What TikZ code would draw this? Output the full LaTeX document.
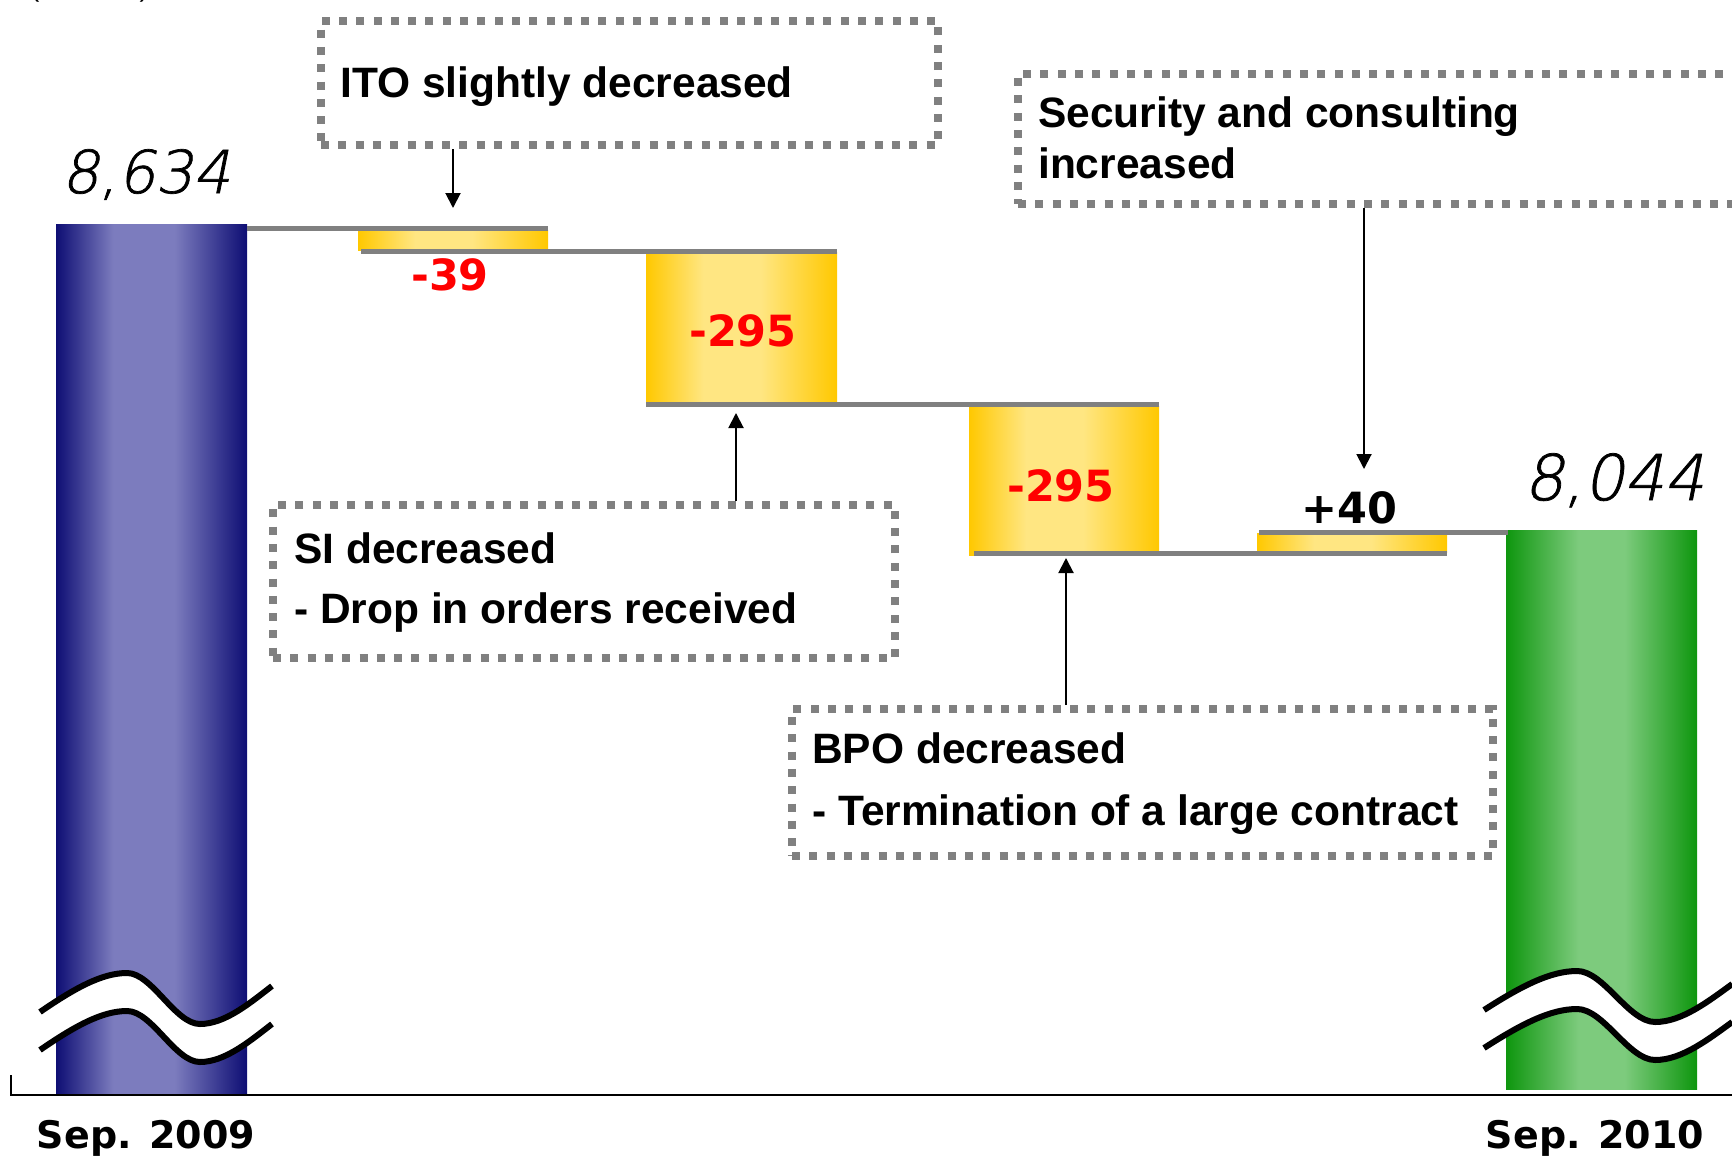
\documentclass[tikz,border=0pt]{standalone}
\usepackage{fontspec}
\setmainfont{Liberation Sans}
\newfontfamily\numfont{DejaVu Sans}
\newfontfamily\thinfont{DejaVu Sans ExtraLight}[FakeSlant=0.2, FakeBold=1.2]
\usetikzlibrary{arrows.meta}

\definecolor{navyD}{RGB}{14,14,116}
\definecolor{navyL}{RGB}{124,124,190}
\definecolor{greenD}{RGB}{14,150,14}
\definecolor{greenL}{RGB}{125,203,125}
\definecolor{goldD}{RGB}{255,200,0}
\definecolor{goldL}{RGB}{255,230,130}
\definecolor{stepgray}{RGB}{128,128,128}
\definecolor{minusred}{RGB}{255,0,0}

% bar shadings: dark edges, light band a little left of centre
\pgfdeclarehorizontalshading{navybar}{100bp}{color(0bp)=(navyD); color(25bp)=(navyD); color(40bp)=(navyL); color(56bp)=(navyL); color(75bp)=(navyD); color(100bp)=(navyD)}
\pgfdeclarehorizontalshading{greenbar}{100bp}{color(0bp)=(greenD); color(25bp)=(greenD); color(44bp)=(greenL); color(56bp)=(greenL); color(75bp)=(greenD); color(100bp)=(greenD)}
\pgfdeclarehorizontalshading{goldbar}{100bp}{color(0bp)=(goldD); color(25bp)=(goldD); color(40bp)=(goldL); color(55bp)=(goldL); color(75bp)=(goldD); color(100bp)=(goldD)}

\tikzset{
  bar/.style={shade, inner sep=0pt, outer sep=0pt, anchor=north west},
  stepline/.style={draw=stepgray, line width=5pt},
  notebox/.style={draw=stepgray, line width=8pt, dash pattern=on 8pt off 9.3pt,
                  inner sep=0pt, anchor=north west},
  notetext/.style={anchor=base west, inner sep=0pt, font=\bfseries\fontsize{42.5pt}{50pt}\selectfont},
  callout/.style={draw=black, line width=2pt, -{Triangle[width=15pt,length=15pt]}},
  delta/.style={anchor=base, inner sep=0pt, font=\numfont\bfseries\fontsize{43pt}{50pt}\selectfont},
  total/.style={anchor=base, inner sep=0pt},
  period/.style={anchor=base, inner sep=0pt, font=\numfont\bfseries\fontsize{38pt}{44pt}\selectfont},
  breakwave/.pic={
    \fill[white] (0,0) .. controls (35,-24) and (62,-39) .. (87,-39)
      .. controls (112,-39) and (135,12) .. (160,12)
      .. controls (185,12) and (210,-9) .. (232,-26)
      -- (232,12) .. controls (210,29) and (185,50) .. (160,50)
      .. controls (135,50) and (112,-1) .. (87,-1)
      .. controls (62,-1) and (35,14) .. (0,38) -- cycle;
    \draw[line width=6pt] (0,0) .. controls (35,-24) and (62,-39) .. (87,-39)
      .. controls (112,-39) and (135,12) .. (160,12)
      .. controls (185,12) and (210,-9) .. (232,-26);
    \draw[line width=6pt] (0,38) .. controls (35,14) and (62,-1) .. (87,-1)
      .. controls (112,-1) and (135,50) .. (160,50)
      .. controls (185,50) and (210,29) .. (232,12);
  }
}

\begin{document}
\begin{tikzpicture}[x=1pt, y=-1pt]
\useasboundingbox (0,0) rectangle (1732,1156);
\clip (0,0) rectangle (1732,1156);

% unit caption, cut by the top edge
\node[anchor=base west, inner sep=0pt, font=\fontsize{28pt}{32pt}\selectfont] (unit) at (30,-3) {(\hspace{100pt})};

% totals and steps
\node[bar, shading=navybar,  minimum width=191pt, minimum height=869pt]   (b0) at (56,224) {};
\node[bar, shading=goldbar,  minimum width=190pt, minimum height=19.5pt]  (b1) at (358,230.5) {};
\node[bar, shading=goldbar,  minimum width=191pt, minimum height=151pt]   (b2) at (646,252) {};
\node[bar, shading=goldbar,  minimum width=190pt, minimum height=149pt]   (b3) at (969,406) {};
\node[bar, shading=goldbar,  minimum width=190pt, minimum height=19pt]    (b4) at (1257,533) {};
\node[bar, shading=greenbar, minimum width=191pt, minimum height=559pt]   (b5) at (1506,530) {};

% connecting levels
\draw[stepline] (247,228) -- (548,228);
\draw[stepline] (361,251) -- (837,251);
\draw[stepline] (646,404.5) -- (1159,404.5);
\draw[stepline] (974,553.5) -- (1447,553.5);
\draw[stepline] (1259,532) -- (1508,532);

% axis
\draw[line width=2.2pt] (11,1075) -- (11,1095) -- (1740,1095);

% scale breaks
\pic at (40,1012) {breakwave};
\pic[xscale=1.07] at (1484,1010) {breakwave};

% comment boxes
\node[notebox, minimum width=617pt, minimum height=124pt] (ito) at (317,17) {};
\node[notebox, minimum width=746pt, minimum height=130pt] (sec) at (1014,70) {};
\node[notebox, minimum width=622pt, minimum height=153pt] (si)  at (269,501) {};
\node[notebox, minimum width=701pt, minimum height=147pt] (bpo) at (788,705) {};

\node[notetext] (itoT)  at (340,97)   {ITO slightly decreased};
\node[notetext] (secT1) at (1038,127) {Security and consulting};
\node[notetext] (secT2) at (1038,178) {increased};
\node[notetext] (siT1)  at (294,563)  {SI decreased};
\node[notetext] (siT2)  at (294,623)  {- Drop in orders received};
\node[notetext] (bpoT1) at (812,763)  {BPO decreased};
\node[notetext] (bpoT2) at (812,825)  {- Termination of a large contract};

% callout arrows
\coordinate (tipIto) at (453,208);
\coordinate (tipSi)  at (736,413);
\coordinate (tipBpo) at (1066,558);
\coordinate (tipSec) at (1364,469);
\draw[callout] (ito.south -| tipIto) -- (tipIto);
\draw[callout] (si.north -| tipSi) -- (tipSi);
\draw[callout] (bpo.north -| tipBpo) -- (tipBpo);
\draw[callout] (sec.south -| tipSec) -- (tipSec);

% values
\node[total, font=\thinfont\fontsize{59pt}{66pt}\selectfont] (v0) at (146,193) {8,634};
\node[delta, text=minusred] (v1) at (450,290)  {-39};
\node[delta, text=minusred] (v2) at (743,346)  {-295};
\node[delta, text=minusred] (v3) at (1061,501) {-295};
\node[delta] (v4) at (1349,523) {+40};
\node[total, font=\thinfont\fontsize{63pt}{70pt}\selectfont] (v5) at (1614,500) {8,044};

% periods
\node[period] (p0) at (146,1148)  {Sep. 2009};
\node[period] (p1) at (1595,1148) {Sep. 2010};
\end{tikzpicture}
\end{document}
